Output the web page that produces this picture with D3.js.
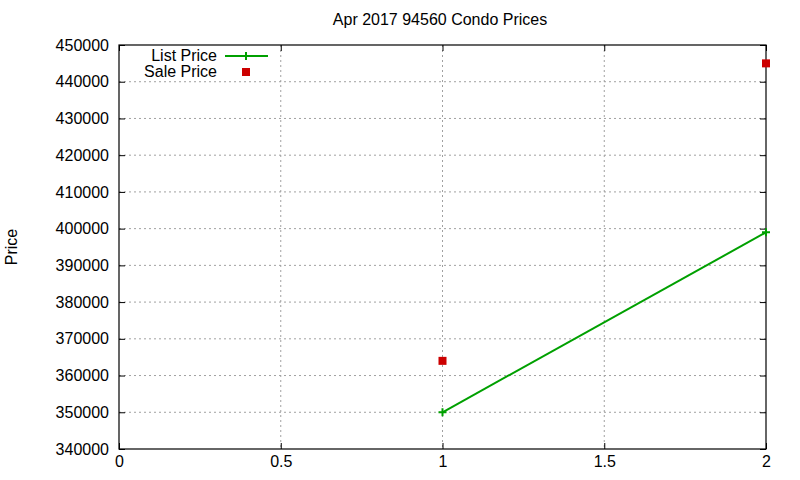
<!DOCTYPE html>
<html>
<head>
<meta charset="utf-8">
<script src="https://cdn.jsdelivr.net/npm/d3@7"></script>
<style>
  body { margin: 0; background: #fff; }
  svg text { font-family: "Liberation Sans", Arial, sans-serif; }
</style>
</head>
<body>
<script>
// Chart data
var xValues = [1, 2]
var listPrices = [350000, 399000]
var salePrices = [364000, 445000]
var xTicks = [0, 0.5, 1, 1.5, 2]
var yTicks = [340000, 350000, 360000, 370000, 380000, 390000, 400000, 410000, 420000, 430000, 440000, 450000]
var seriesNames = ["List Price", "Sale Price"]

// Sizes and margins
var svgW = 800
var svgH = 480
var marginLeft = 119
var marginRight = 34
var marginTop = 45
var marginBottom = 31
var dataW = svgW - marginLeft - marginRight
var dataH = svgH - marginTop - marginBottom
var fontSize = "16px"

var xScale = d3.scaleLinear().domain([0, 2]).range([0, dataW])
var yScale = d3.scaleLinear().domain([340000, 450000]).range([dataH, 0])

var svg = d3.select("body").append("svg")
            .attr("width", svgW)
            .attr("height", svgH)

var plot = svg.append("g")
              .attr("transform", "translate(" + marginLeft + "," + marginTop + ")")

// Grid lines
plot.selectAll(".xgrid")
    .data(xTicks.slice(1, -1))
    .enter().append("line")
      .attr("x1", function(d) { return xScale(d) })
      .attr("x2", function(d) { return xScale(d) })
      .attr("y1", 0)
      .attr("y2", dataH)
      .attr("stroke", "#a0a0a0")
      .attr("stroke-dasharray", "2,3")

plot.selectAll(".ygrid")
    .data(yTicks.slice(1, -1))
    .enter().append("line")
      .attr("x1", 0)
      .attr("x2", dataW)
      .attr("y1", function(d) { return yScale(d) })
      .attr("y2", function(d) { return yScale(d) })
      .attr("stroke", "#a0a0a0")
      .attr("stroke-dasharray", "2,3")

// Axes, ticks pointing inward, mirrored
var xAxis = d3.axisBottom(xScale).tickValues(xTicks).tickSize(-6).tickPadding(7)
    .tickFormat(d3.format(""))
var yAxis = d3.axisLeft(yScale).tickValues(yTicks).tickSize(-6).tickPadding(10)
    .tickFormat(d3.format("d"))

plot.append("g").attr("transform", "translate(0," + dataH + ")").call(xAxis)
plot.append("g").call(yAxis)
plot.append("g").call(d3.axisTop(xScale).tickValues(xTicks).tickSize(-6).tickFormat(""))
plot.append("g").attr("transform", "translate(" + dataW + ",0)")
    .call(d3.axisRight(yScale).tickValues(yTicks).tickSize(-6).tickFormat(""))

plot.selectAll(".domain").remove()
plot.selectAll(".tick line").attr("stroke", "#000")
plot.selectAll(".tick text").style("font-size", fontSize).attr("fill", "#000")

// Border
plot.append("rect")
    .attr("width", dataW)
    .attr("height", dataH)
    .attr("fill", "none")
    .attr("stroke", "#000")
    .attr("stroke-width", 1.2)

// List price line
var line = d3.line()
    .x(function(d, i) { return xScale(xValues[i]) })
    .y(function(d) { return yScale(d) })

plot.append("path")
    .datum(listPrices)
    .attr("d", line)
    .attr("fill", "none")
    .attr("stroke", "#00a000")
    .attr("stroke-width", 2)

function plus(g, x, y) {
  g.append("path")
   .attr("d", "M" + (x - 4) + "," + y + "h8M" + x + "," + (y - 4) + "v8")
   .attr("stroke", "#00a000")
   .attr("stroke-width", 2)
}
listPrices.forEach(function(d, i) { plus(plot, xScale(xValues[i]), yScale(d)) })

// Sale price points
plot.selectAll(".sale")
    .data(salePrices)
    .enter().append("rect")
      .attr("x", function(d, i) { return xScale(xValues[i]) - 4 })
      .attr("y", function(d) { return yScale(d) - 4 })
      .attr("width", 8)
      .attr("height", 8)
      .attr("fill", "#cc0000")

// Legend (absolute position)
var legend = svg.append("g")
legend.selectAll("text")
      .data(seriesNames)
      .enter().append("text")
        .attr("x", 217)
        .attr("y", function(d, i) { return 61 + i * 16 })
        .attr("text-anchor", "end")
        .style("font-size", fontSize)
        .text(function(d) { return d })
legend.append("line").attr("x1", 225).attr("x2", 268).attr("y1", 56).attr("y2", 56)
      .attr("stroke", "#00a000").attr("stroke-width", 2)
plus(legend, 246, 56)
legend.append("rect").attr("x", 242).attr("y", 68).attr("width", 8).attr("height", 8)
      .attr("fill", "#cc0000")

// Title and axis label
svg.append("text")
   .attr("x", 440).attr("y", 25)
   .attr("text-anchor", "middle")
   .style("font-size", fontSize)
   .text("Apr 2017 94560 Condo Prices")

svg.append("text")
   .attr("transform", "translate(17," + (marginTop + dataH / 2) + ") rotate(-90)")
   .attr("text-anchor", "middle")
   .style("font-size", fontSize)
   .text("Price")
</script>
</body>
</html>
